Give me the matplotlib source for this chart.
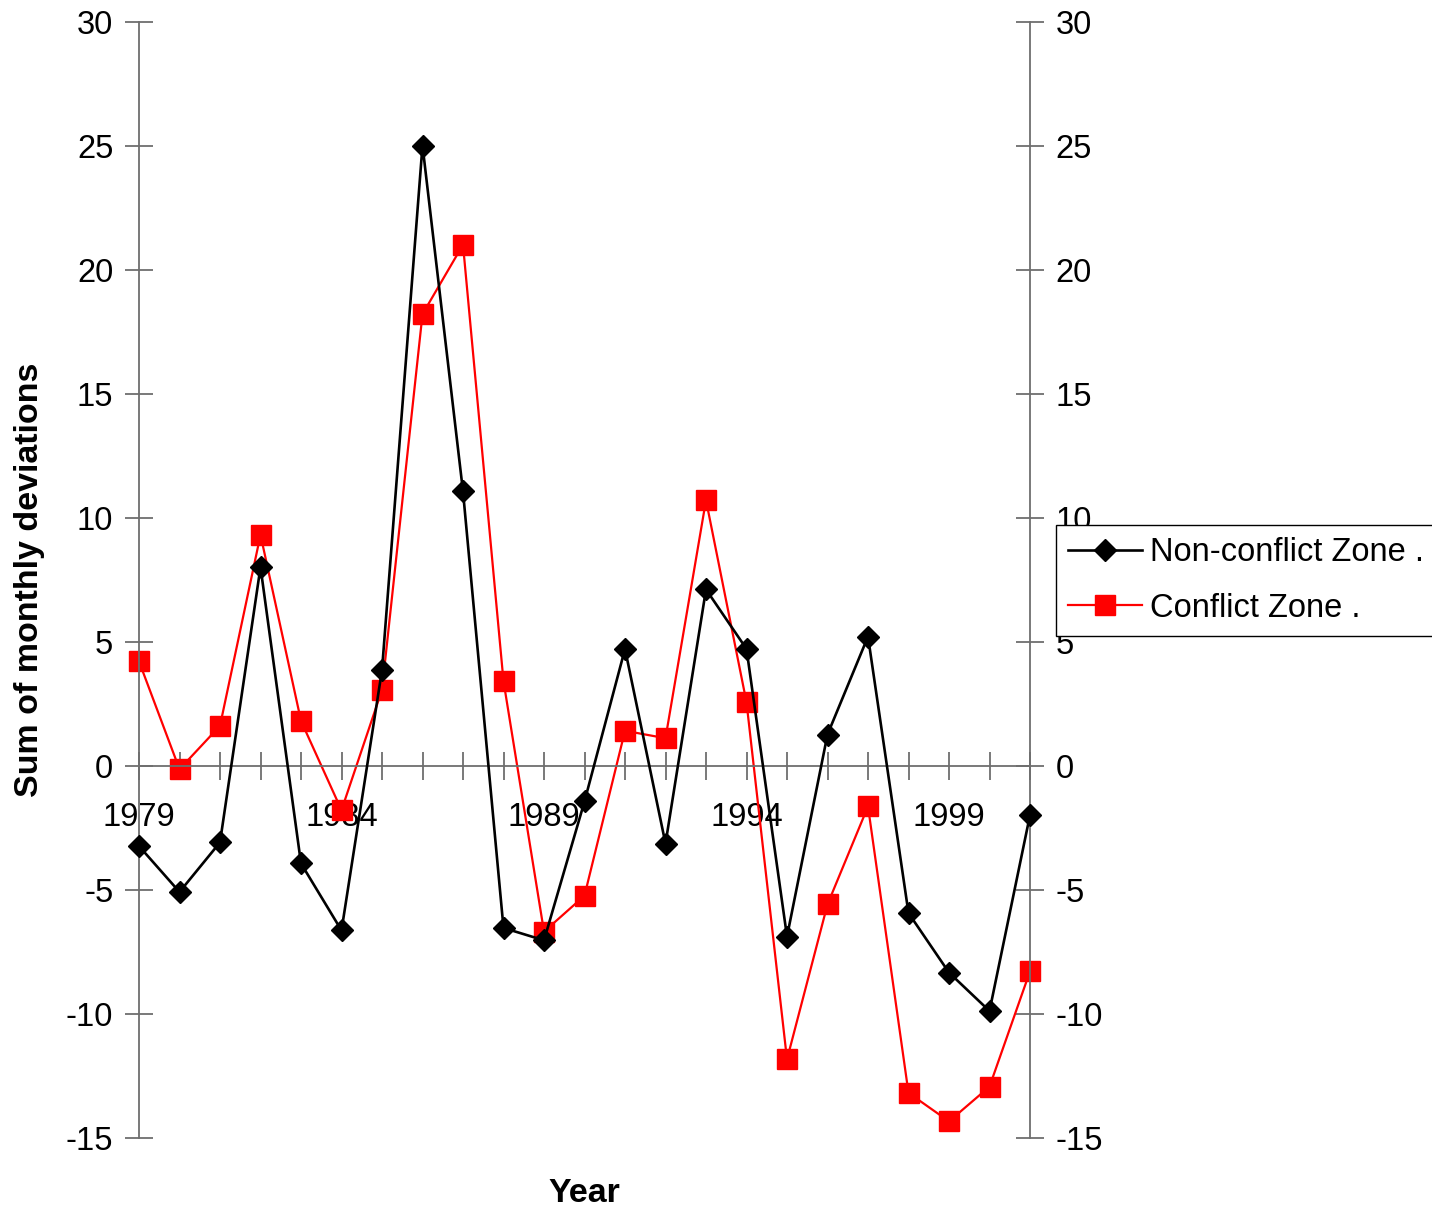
import matplotlib
matplotlib.use("Agg")
import matplotlib.pyplot as plt

plt.rcParams['font.family'] = ['Liberation Sans', 'DejaVu Sans']

years = list(range(1979, 2002))
non_conflict = [-3.25, -5.1, -3.1, 8.0, -3.95, -6.65, 3.85, 25.0, 11.05, -6.55, -7.05,
                -1.45, 4.7, -3.15, 7.1, 4.7, -6.9, 1.25, 5.2, -5.95, -8.35, -9.9, -2.0]
conflict = [4.2, -0.15, 1.6, 9.3, 1.8, -1.8, 3.05, 18.2, 21.0, 3.4, -6.7,
            -5.25, 1.4, 1.1, 10.7, 2.55, -11.85, -5.6, -1.65, -13.2, -14.35, -12.95, -8.3]
labeled_years = [1979, 1984, 1989, 1994, 1999]
y_ticks = [-15, -10, -5, 0, 5, 10, 15, 20, 25, 30]
y_tick_labels = ["-15", "-10", "-5", "0", "5", "10", "15", "20", "25", "30"]

axis_gray = '#6e6e6e'
fs = 23.5
label_fs = 24.5

fig = plt.figure(figsize=(14.32, 12.19), dpi=100)
ax = fig.add_axes([139 / 1432, 1 - 1137.5 / 1219, (1030 - 139) / 1432, (1137.5 - 21.5) / 1219])

ax.plot(years, non_conflict, color='black', lw=1.9, marker='D', ms=11,
        mfc='black', mec='black', mew=1, clip_on=False, zorder=3,
        label='Non-conflict Zone .')
ax.plot(years, conflict, color='#ff0000', lw=1.6, marker='s', ms=14.5,
        mfc='#ff0000', mec='#ff0000', mew=1, clip_on=False, zorder=2,
        label='Conflict Zone .')

ax.set_xlim(1979, 2001)
ax.set_ylim(-15, 30)

ax.spines['top'].set_visible(False)
ax.spines['bottom'].set_position(('data', 0))
for side in ('left', 'right', 'bottom'):
    ax.spines[side].set_color(axis_gray)
    ax.spines[side].set_linewidth(1.3)

ax.set_xticks(years)
ax.set_xticklabels([str(y) if y in labeled_years else '' for y in years])
ax.set_yticks(y_ticks)
ax.set_yticklabels(y_tick_labels)

ax.tick_params(axis='x', direction='inout', length=20, width=1.3, color=axis_gray,
               labelsize=fs, pad=16)
ax.tick_params(axis='y', direction='inout', length=20, width=1.3, color=axis_gray,
               labelsize=fs, pad=8.5, left=True, right=True, labelleft=True, labelright=True)

ax.set_ylabel('Sum of monthly deviations', fontsize=label_fs, fontweight='bold')
ax.yaxis.set_label_coords(-0.1055, 0.5)
fig.text(584.5 / 1432, 1 - 1193 / 1219, 'Year', fontsize=label_fs, fontweight='bold',
         ha='center', va='center')

leg = fig.legend(loc='upper left', bbox_to_anchor=(1056 / 1432, 1 - 525 / 1219),
                 fontsize=fs, frameon=True, fancybox=False, framealpha=1,
                 edgecolor='black', borderpad=0.38, labelspacing=0.75,
                 handlelength=2.25, handletextpad=0.25, borderaxespad=0, numpoints=1)
leg.get_frame().set_linewidth(1.0)

fig.savefig('out.png', dpi=100)
